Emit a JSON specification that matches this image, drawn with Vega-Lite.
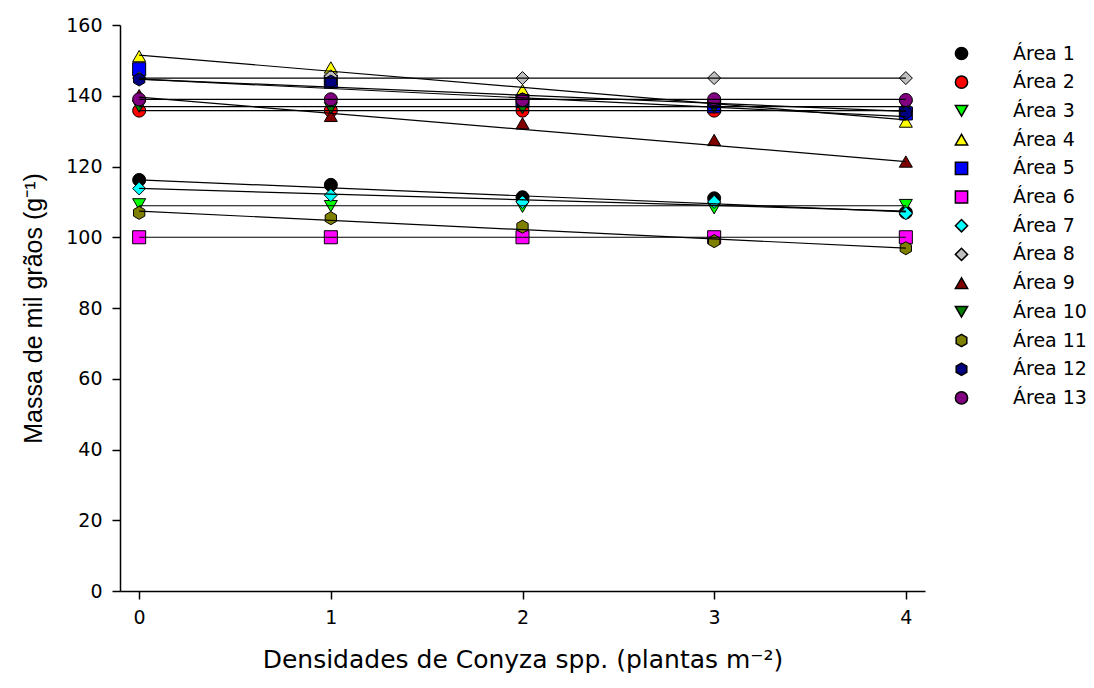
{
  "$schema": "https://vega.github.io/schema/vega-lite/v6.json",
  "width": 805,
  "height": 566,
  "autosize": "none",
  "padding": {"left": 120, "top": 25, "right": 169, "bottom": 97},
  "background": "white",
  "config": {
    "font": "DejaVu Sans",
    "view": {"stroke": null},
    "axis": {
      "grid": false,
      "domainColor": "black",
      "tickColor": "black",
      "labelColor": "black",
      "titleColor": "black",
      "labelFont": "DejaVu Sans",
      "titleFont": "DejaVu Sans",
      "labelFontSize": 19,
      "titleFontSize": 25,
      "titleFontWeight": "normal",
      "tickSize": 8,
      "domainWidth": 1.5,
      "tickWidth": 1.5
    },
    "legend": {
      "labelFont": "DejaVu Sans",
      "labelFontSize": 19,
      "labelColor": "black"
    }
  },
  "datasets": {
    "pts": [
      {"area": "Área 1", "x": 0, "y": 116.2},
      {"area": "Área 1", "x": 1, "y": 114.8},
      {"area": "Área 1", "x": 2, "y": 111.3},
      {"area": "Área 1", "x": 3, "y": 111.0},
      {"area": "Área 1", "x": 4, "y": 107.0},
      {"area": "Área 2", "x": 0, "y": 135.8},
      {"area": "Área 2", "x": 1, "y": 135.8},
      {"area": "Área 2", "x": 2, "y": 135.8},
      {"area": "Área 2", "x": 3, "y": 135.8},
      {"area": "Área 2", "x": 4, "y": 135.8},
      {"area": "Área 3", "x": 0, "y": 109.3},
      {"area": "Área 3", "x": 1, "y": 108.8},
      {"area": "Área 3", "x": 2, "y": 108.6},
      {"area": "Área 3", "x": 3, "y": 108.2},
      {"area": "Área 3", "x": 4, "y": 109.1},
      {"area": "Área 4", "x": 0, "y": 151.2},
      {"area": "Área 4", "x": 1, "y": 148.0},
      {"area": "Área 4", "x": 2, "y": 141.6},
      {"area": "Área 4", "x": 3, "y": 137.2},
      {"area": "Área 4", "x": 4, "y": 132.7},
      {"area": "Área 5", "x": 0, "y": 147.5},
      {"area": "Área 5", "x": 1, "y": 144.0},
      {"area": "Área 5", "x": 2, "y": 138.5},
      {"area": "Área 5", "x": 3, "y": 137.0},
      {"area": "Área 5", "x": 4, "y": 135.0},
      {"area": "Área 6", "x": 0, "y": 100},
      {"area": "Área 6", "x": 1, "y": 100},
      {"area": "Área 6", "x": 2, "y": 100},
      {"area": "Área 6", "x": 3, "y": 100},
      {"area": "Área 6", "x": 4, "y": 100},
      {"area": "Área 7", "x": 0, "y": 113.8},
      {"area": "Área 7", "x": 1, "y": 111.9},
      {"area": "Área 7", "x": 2, "y": 110.0},
      {"area": "Área 7", "x": 3, "y": 110.0},
      {"area": "Área 7", "x": 4, "y": 106.8},
      {"area": "Área 8", "x": 0, "y": 145.0},
      {"area": "Área 8", "x": 1, "y": 145.5},
      {"area": "Área 8", "x": 2, "y": 145.0},
      {"area": "Área 8", "x": 3, "y": 145.0},
      {"area": "Área 8", "x": 4, "y": 145.0},
      {"area": "Área 9", "x": 0, "y": 140.2},
      {"area": "Área 9", "x": 1, "y": 134.3},
      {"area": "Área 9", "x": 2, "y": 132.2},
      {"area": "Área 9", "x": 3, "y": 127.5},
      {"area": "Área 9", "x": 4, "y": 121.4},
      {"area": "Área 10", "x": 0, "y": 136.9},
      {"area": "Área 10", "x": 1, "y": 136.5},
      {"area": "Área 10", "x": 2, "y": 136.5},
      {"area": "Área 10", "x": 3, "y": 136.7},
      {"area": "Área 10", "x": 4, "y": 136.9},
      {"area": "Área 11", "x": 0, "y": 106.9},
      {"area": "Área 11", "x": 1, "y": 105.4},
      {"area": "Área 11", "x": 2, "y": 103.0},
      {"area": "Área 11", "x": 3, "y": 98.9},
      {"area": "Área 11", "x": 4, "y": 96.9},
      {"area": "Área 12", "x": 0, "y": 144.6},
      {"area": "Área 12", "x": 1, "y": 144.0},
      {"area": "Área 12", "x": 2, "y": 139.0},
      {"area": "Área 12", "x": 3, "y": 138.0},
      {"area": "Área 12", "x": 4, "y": 135.2},
      {"area": "Área 13", "x": 0, "y": 139.0},
      {"area": "Área 13", "x": 1, "y": 139.0},
      {"area": "Área 13", "x": 2, "y": 138.8},
      {"area": "Área 13", "x": 3, "y": 139.0},
      {"area": "Área 13", "x": 4, "y": 138.8}
    ],
    "fits": [
      {"area": "Área 1", "x": 0, "y": 116.2},
      {"area": "Área 1", "x": 4, "y": 107.2},
      {"area": "Área 2", "x": 0, "y": 135.8},
      {"area": "Área 2", "x": 4, "y": 135.8},
      {"area": "Área 3", "x": 0, "y": 108.9},
      {"area": "Área 3", "x": 4, "y": 108.9},
      {"area": "Área 4", "x": 0, "y": 151.5},
      {"area": "Área 4", "x": 4, "y": 133.2},
      {"area": "Área 5", "x": 0, "y": 144.7},
      {"area": "Área 5", "x": 4, "y": 134.1},
      {"area": "Área 6", "x": 0, "y": 100},
      {"area": "Área 6", "x": 4, "y": 100},
      {"area": "Área 7", "x": 0, "y": 113.8},
      {"area": "Área 7", "x": 4, "y": 107.4},
      {"area": "Área 8", "x": 0, "y": 145.0},
      {"area": "Área 8", "x": 4, "y": 145.0},
      {"area": "Área 9", "x": 0, "y": 139.6},
      {"area": "Área 9", "x": 4, "y": 121.4},
      {"area": "Área 10", "x": 0, "y": 136.9},
      {"area": "Área 10", "x": 4, "y": 136.9},
      {"area": "Área 11", "x": 0, "y": 107.4},
      {"area": "Área 11", "x": 4, "y": 96.9},
      {"area": "Área 12", "x": 0, "y": 144.7},
      {"area": "Área 12", "x": 4, "y": 135.6},
      {"area": "Área 13", "x": 0, "y": 139.0},
      {"area": "Área 13", "x": 4, "y": 139.0}
    ]
  },
  "layer": [
    {
      "data": {"name": "pts"},
      "mark": {"type": "point", "filled": true, "stroke": "black", "strokeWidth": 1, "opacity": 1, "size": 170},
      "encoding": {
        "x": {
          "field": "x", "type": "quantitative",
          "scale": {"domain": [-0.1, 4.1], "nice": false, "zero": false},
          "axis": {"values": [0, 1, 2, 3, 4], "format": "d", "title": "Densidades de Conyza spp. (plantas m⁻²)", "labelPadding": 9, "titlePadding": 20}
        },
        "y": {
          "field": "y", "type": "quantitative",
          "scale": {"domain": [0, 160], "nice": false},
          "axis": {"values": [0, 20, 40, 60, 80, 100, 120, 140, 160], "title": "Massa de mil grãos (g⁻¹)", "titleFont": "Liberation Sans", "labelPadding": 10, "titlePadding": 19}
        },
        "fill": {
          "field": "area", "type": "nominal",
          "scale": {
            "domain": ["Área 1", "Área 2", "Área 3", "Área 4", "Área 5", "Área 6", "Área 7", "Área 8", "Área 9", "Área 10", "Área 11", "Área 12", "Área 13"],
            "range": ["#000000", "#FF0000", "#00FF00", "#FFFF00", "#0000FF", "#FF00FF", "#00FFFF", "#C0C0C0", "#800000", "#007F00", "#808000", "#000080", "#800080"]
          },
          "legend": {
            "title": null, "orient": "none", "legendX": 832, "legendY": 19,
            "symbolSize": 150, "labelOffset": 42, "rowPadding": 8.7, "symbolOpacity": 1,
            "encode": {"symbols": {"update": {"stroke": {"value": "black"}, "strokeWidth": {"value": 1}}}}
          }
        },
        "shape": {
          "field": "area", "type": "nominal",
          "scale": {
            "domain": ["Área 1", "Área 2", "Área 3", "Área 4", "Área 5", "Área 6", "Área 7", "Área 8", "Área 9", "Área 10", "Área 11", "Área 12", "Área 13"],
            "range": ["circle", "circle", "triangle-down", "triangle-up", "square", "square", "diamond", "diamond", "triangle-up", "triangle-down", "M0,-1L0.866,-0.5L0.866,0.5L0,1L-0.866,0.5L-0.866,-0.5Z", "M0,-1L0.866,-0.5L0.866,0.5L0,1L-0.866,0.5L-0.866,-0.5Z", "circle"]
          },
          "legend": {
            "title": null, "orient": "none", "legendX": 832, "legendY": 19,
            "symbolSize": 150, "labelOffset": 42, "rowPadding": 8.7, "symbolOpacity": 1,
            "encode": {"symbols": {"update": {"stroke": {"value": "black"}, "strokeWidth": {"value": 1}}}}
          }
        }
      }
    },
    {
      "data": {"name": "fits"},
      "mark": {"type": "line", "color": "black", "strokeWidth": 1.2},
      "encoding": {
        "x": {"field": "x", "type": "quantitative"},
        "y": {"field": "y", "type": "quantitative"},
        "detail": {"field": "area", "type": "nominal"}
      }
    }
  ]
}
